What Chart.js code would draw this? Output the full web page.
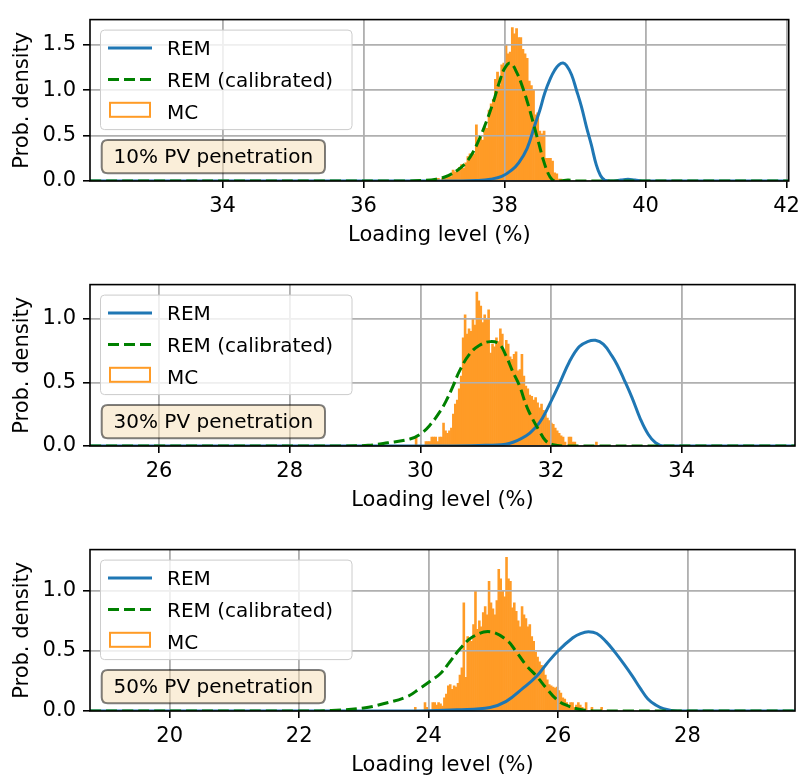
<!DOCTYPE html>
<html>
<head>
<meta charset="utf-8">
<script src="https://cdn.jsdelivr.net/npm/chart.js@4.4.0/dist/chart.umd.min.js"></script>
<style>
  html, body { margin: 0; padding: 0; background: #fff; }
  #wrap { position: relative; width: 806px; height: 780px; }
  .panel { position: absolute; left: 0; width: 806px; height: 250px; }
</style>
</head>
<body>
<div id="wrap">
  <div class="panel" style="top:0"><canvas id="c1" width="806" height="250"></canvas></div>
  <div class="panel" style="top:265px"><canvas id="c2" width="806" height="250"></canvas></div>
  <div class="panel" style="top:530px"><canvas id="c3" width="806" height="250"></canvas></div>
</div>
<script>
/* ── Data ─────────────────────────────────────────── */
const seriesLabels = ["REM", "REM (calibrated)", "MC"];
const notes = ["10% PV penetration", "30% PV penetration", "50% PV penetration"];
const xTitle = "Loading level (%)";
const yTitle = "Prob. density";

const xTicks1 = [34, 36, 38, 40, 42];
const xTicks2 = [26, 28, 30, 32, 34];
const xTicks3 = [20, 22, 24, 26, 28];
const yTicks1 = [0, 0.5, 1.0, 1.5];
const yTicks2 = [0, 0.5, 1.0];
const yTicks3 = [0, 0.5, 1.0];

// histogram bins (MC), 0.03 wide, first bin centre given
const binWidth = 0.03;
const mcFirst1 = 37.03;
const mcDensity1 = [
  0.02, 0.03, 0.00, 0.03, 0.05, 0.04, 0.06, 0.05, 0.12, 0.10,
  0.12, 0.15, 0.18, 0.14, 0.20, 0.27, 0.30, 0.28, 0.30, 0.62,
  0.42, 0.48, 0.45, 0.60, 0.58, 0.78, 0.85, 0.90, 1.12, 1.20,
  1.05, 1.28, 1.30, 1.50, 1.40, 1.42, 1.69, 1.62, 1.68, 1.58,
  1.58, 1.45, 1.40, 1.35, 1.10, 1.05, 1.00, 0.73, 0.75, 0.55,
  0.52, 0.55, 0.25, 0.25, 0.25, 0.22, 0.09, 0.08, 0.02, 0.02
];
const mcFirst2 = 29.935;
const mcDensity2 = [
  0.07, 0, 0, 0, 0, 0.035, 0.035, 0.035, 0.07, 0.07,
  0.07, 0.035, 0.07, 0.07, 0.18, 0.12, 0.10, 0.12, 0.14, 0.25,
  0.33, 0.36, 0.45, 0.55, 0.85, 1.03, 0.88, 0.92, 0.90, 1.00,
  0.95, 1.21, 1.14, 1.10, 0.97, 1.03, 1.00, 1.07, 0.73, 0.80,
  0.78, 0.85, 0.82, 0.92, 0.88, 0.75, 0.83, 0.80, 0.70, 0.68,
  0.72, 0.74, 0.59, 0.60, 0.72, 0.55, 0.47, 0.45, 0.40, 0.39,
  0.36, 0.38, 0.34, 0.30, 0.33, 0.28, 0.25, 0.22, 0.20, 0.18,
  0.17, 0.14, 0.12, 0.10, 0.08, 0.07, 0.03, 0, 0.07, 0.07,
  0.03, 0.03, 0, 0, 0, 0, 0, 0, 0, 0,
  0, 0, 0.03
];
const mcFirst3 = 23.795;
const mcDensity3 = [
  0.03, 0, 0, 0, 0, 0.07, 0.03, 0, 0, 0.07,
  0.07, 0.05, 0.07, 0.06, 0.04, 0.11, 0.14, 0.21, 0.22, 0.18,
  0.21, 0.20, 0.23, 0.30, 0.36, 0.90, 0.28, 0.62, 0.60, 0.58,
  0.72, 1.00, 0.68, 0.75, 0.70, 0.82, 0.87, 0.80, 1.08, 0.90,
  0.85, 0.80, 0.92, 1.18, 1.10, 1.00, 0.95, 1.28, 1.10, 1.08,
  0.86, 0.90, 0.83, 0.75, 0.70, 0.87, 0.80, 0.77, 0.70, 0.72,
  0.62, 0.58, 0.49, 0.45, 0.41, 0.38, 0.36, 0.30, 0.26, 0.22,
  0.21, 0.20, 0.19, 0.20, 0.17, 0.15, 0.11, 0.10, 0.07, 0.03,
  0.07, 0.07, 0.03, 0.05, 0.07, 0.05, 0.03, 0, 0.07, 0,
  0, 0.03, 0, 0, 0, 0, 0.03
];

// REM curves
const remX1 = [32.12, 37.4, 37.6, 37.8, 37.96, 38.1, 38.2, 38.32, 38.43, 38.5, 38.57, 38.65, 38.71, 38.77, 38.83, 38.88, 38.95, 39.02, 39.09, 39.16, 39.23, 39.3, 39.36, 39.42, 39.5, 39.65, 39.75, 39.85, 40.0, 42.03];
const remY1 = [0, 0, 0.005, 0.02, 0.05, 0.12, 0.2, 0.36, 0.62, 0.78, 0.97, 1.13, 1.22, 1.28, 1.3, 1.27, 1.17, 1.0, 0.82, 0.6, 0.4, 0.18, 0.06, 0.01, 0, 0.01, 0.02, 0.01, 0, 0];
const calX1 = [32.12, 36.6, 36.8, 37.03, 37.2, 37.35, 37.45, 37.54, 37.64, 37.73, 37.84, 37.93, 38.0, 38.08, 38.17, 38.27, 38.35, 38.41, 38.48, 38.55, 38.62, 38.67, 38.72, 38.8, 38.9, 39.0, 42.03];
const calY1 = [0, 0, 0.005, 0.02, 0.06, 0.13, 0.2, 0.3, 0.46, 0.63, 0.87, 1.1, 1.24, 1.3, 1.2, 1.0, 0.8, 0.63, 0.43, 0.23, 0.08, 0.02, 0, 0, 0.01, 0, 0];

const remX2 = [24.943, 30.5, 31.0, 31.36, 31.62, 31.77, 31.87, 32.0, 32.13, 32.28, 32.43, 32.56, 32.68, 32.8, 32.93, 33.01, 33.12, 33.24, 33.37, 33.49, 33.6, 33.72, 35.735];
const remY2 = [0, 0, 0.005, 0.02, 0.08, 0.15, 0.22, 0.35, 0.49, 0.66, 0.78, 0.82, 0.83, 0.8, 0.71, 0.64, 0.52, 0.38, 0.21, 0.09, 0.025, 0, 0];
const calX2 = [24.943, 28.8, 29.2, 29.5, 29.84, 29.99, 30.14, 30.3, 30.4, 30.5, 30.6, 30.75, 30.9, 31.07, 31.21, 31.31, 31.41, 31.52, 31.62, 31.72, 31.82, 31.92, 32.03, 32.2, 35.735];
const calY2 = [0, 0, 0.005, 0.025, 0.055, 0.09, 0.16, 0.27, 0.36, 0.47, 0.59, 0.72, 0.79, 0.82, 0.8, 0.71, 0.59, 0.47, 0.32, 0.21, 0.12, 0.04, 0.01, 0, 0];

const remX3 = [18.768, 23.5, 24.0, 24.44, 24.95, 25.2, 25.46, 25.67, 25.82, 26.0, 26.23, 26.35, 26.47, 26.6, 26.74, 26.88, 27.02, 27.15, 27.27, 27.39, 27.51, 27.63, 27.85, 29.663];
const remY3 = [0, 0, 0.002, 0.01, 0.03, 0.08, 0.19, 0.29, 0.39, 0.5, 0.61, 0.645, 0.66, 0.645, 0.58, 0.49, 0.39, 0.29, 0.19, 0.1, 0.05, 0.02, 0, 0];
const calX3 = [18.768, 22.0, 22.5, 23.0, 23.3, 23.67, 23.87, 24.03, 24.18, 24.33, 24.49, 24.69, 24.95, 25.21, 25.36, 25.51, 25.67, 25.82, 25.97, 26.12, 26.33, 26.6, 29.663];
const calY3 = [0, 0, 0.005, 0.025, 0.06, 0.12, 0.19, 0.25, 0.31, 0.41, 0.52, 0.62, 0.66, 0.59, 0.49, 0.38, 0.29, 0.19, 0.1, 0.05, 0.015, 0, 0];

/* ── Style ────────────────────────────────────────── */
const BLUE = "#1f77b4";
const GREEN = "#008000";
const ORANGE = "#ff9b26";
const GRID = "#b0b0b0";

Chart.defaults.font.family = "'DejaVu Sans', sans-serif";
Chart.defaults.font.size = 21;
Chart.defaults.color = "#000";

const toPoints = (xs, ys) => xs.map((x, i) => ({ x, y: ys[i] }));
const histPoints = (first, heights) => heights.map((h, i) => ({ x: first + i * binWidth, y: h }));

function roundRect(ctx, x, y, w, h, r) {
    ctx.beginPath();
    ctx.moveTo(x + r, y);
    ctx.lineTo(x + w - r, y);
    ctx.quadraticCurveTo(x + w, y, x + w, y + r);
    ctx.lineTo(x + w, y + h - r);
    ctx.quadraticCurveTo(x + w, y + h, x + w - r, y + h);
    ctx.lineTo(x + r, y + h);
    ctx.quadraticCurveTo(x, y + h, x, y + h - r);
    ctx.lineTo(x, y + r);
    ctx.quadraticCurveTo(x, y, x + r, y);
    ctx.closePath();
}

// grid goes over the bars but under the lines, like matplotlib
function drawGrid(chart) {
    const { ctx, chartArea: a, scales } = chart;
    ctx.save();
    ctx.beginPath();
    ctx.rect(a.left, a.top, a.right - a.left, a.bottom - a.top);
    ctx.clip();
    ctx.strokeStyle = GRID;
    ctx.lineWidth = 1.6;
    scales.x.ticks.forEach(t => {
        const px = Math.round(scales.x.getPixelForValue(t.value) - 0.8) + 0.8;
        ctx.beginPath(); ctx.moveTo(px, a.top); ctx.lineTo(px, a.bottom); ctx.stroke();
    });
    scales.y.ticks.forEach(t => {
        const py = Math.round(scales.y.getPixelForValue(t.value) - 0.8) + 0.8;
        ctx.beginPath(); ctx.moveTo(a.left, py); ctx.lineTo(a.right, py); ctx.stroke();
    });
    ctx.restore();
}

function drawLegend(chart) {
    const { ctx, chartArea: a } = chart;
    ctx.save();
    roundRect(ctx, a.left + 10.5, a.top + 10.5, 251.5, 99.5, 4);
    ctx.fillStyle = "rgba(255,255,255,0.8)";
    ctx.fill();
    ctx.strokeStyle = "#cccccc";
    ctx.lineWidth = 1;
    ctx.stroke();

    chart.data.datasets.forEach((ds, i) => {
        const cy = a.top + 28.3 + i * 31.7;
        if (ds.type === "bar") {
            ctx.fillStyle = "#fff";
            ctx.strokeStyle = ORANGE;
            ctx.lineWidth = 2;
            ctx.fillRect(a.left + 20, cy - 8.5, 40, 14);
            ctx.strokeRect(a.left + 20, cy - 8.5, 40, 14);
        } else {
            ctx.strokeStyle = ds.borderColor;
            ctx.lineWidth = 3;
            ctx.setLineDash(ds.borderDash || []);
            ctx.beginPath();
            ctx.moveTo(a.left + 18, cy);
            ctx.lineTo(a.left + 62, cy);
            ctx.stroke();
            ctx.setLineDash([]);
        }
        ctx.fillStyle = "#000";
        ctx.font = "20px 'DejaVu Sans'";
        ctx.textAlign = "left";
        ctx.textBaseline = "alphabetic";
        ctx.fillText(ds.label, a.left + 77, cy + 7.3);
    });
    ctx.restore();
}

function drawNote(chart, text) {
    const { ctx, chartArea: a } = chart;
    ctx.save();
    roundRect(ctx, a.left + 11.7, a.bottom - 41, 223.3, 33.3, 6);
    ctx.fillStyle = "rgba(245,222,179,0.5)";
    ctx.fill();
    ctx.strokeStyle = "rgba(0,0,0,0.5)";
    ctx.lineWidth = 2;
    ctx.stroke();
    ctx.fillStyle = "#000";
    ctx.font = "20px 'DejaVu Sans'";
    ctx.textAlign = "center";
    ctx.textBaseline = "alphabetic";
    ctx.fillText(text, a.left + 123.3, a.bottom - 17.7);
    ctx.restore();
}

const panelPlugin = {
    id: "panel",
    afterDatasetDraw(chart, args) {
        if (args.meta.type === "bar") drawGrid(chart);
    },
    afterDraw(chart, args, opts) {
        const { ctx, chartArea: a } = chart;
        ctx.save();
        ctx.strokeStyle = "#000";
        ctx.lineWidth = 1.6;
        ctx.strokeRect(a.left, a.top, a.right - a.left, a.bottom - a.top);
        ctx.restore();
        drawLegend(chart);
        drawNote(chart, opts.note);
    },
};

/* ── Panel builder ────────────────────────────────── */
function makePanel(id, p) {
    new Chart(document.getElementById(id), {
        type: "bar",
        data: {
            datasets: [
                {
                    type: "line", label: seriesLabels[0], data: toPoints(p.remX, p.remY),
                    borderColor: BLUE, borderWidth: 3, pointRadius: 0,
                    tension: 0.4, fill: false, order: 1,
                },
                {
                    type: "line", label: seriesLabels[1], data: toPoints(p.calX, p.calY),
                    borderColor: GREEN, borderWidth: 3, borderDash: [11, 5], pointRadius: 0,
                    tension: 0.4, fill: false, order: 0,
                },
                {
                    type: "bar", label: seriesLabels[2], data: histPoints(p.mcFirst, p.mc),
                    backgroundColor: ORANGE, borderWidth: 0,
                    barPercentage: 1, categoryPercentage: 1, order: 2,
                },
            ],
        },
        options: {
            responsive: false,
            animation: false,
            events: [],
            layout: { padding: { left: 0, right: 11, top: p.top, bottom: 0 } },
            scales: {
                x: {
                    type: "linear", min: p.xMin, max: p.xMax, offset: false,
                    afterBuildTicks: s => { s.ticks = p.xTicks.map(v => ({ value: v })); },
                    afterFit: s => { s.height = 69; },
                    ticks: { padding: 6, maxRotation: 0, autoSkip: false, color: "#000", callback: v => String(v) },
                    grid: { color: GRID, lineWidth: 1.6, offset: false, tickLength: 7, tickColor: "#000", tickWidth: 1.6 },
                    border: { display: false },
                    title: { display: true, text: xTitle, color: "#000", padding: { top: 0, bottom: 2 } },
                },
                y: {
                    type: "linear", min: 0, max: p.yMax,
                    afterBuildTicks: s => { s.ticks = p.yTicks.map(v => ({ value: v })); },
                    afterFit: s => { s.width = 90; },
                    ticks: { padding: 7, color: "#000", callback: v => v.toFixed(1) },
                    grid: { color: GRID, lineWidth: 1.6, tickLength: 7, tickColor: "#000", tickWidth: 1.6 },
                    border: { display: false },
                    title: { display: true, text: yTitle, color: "#000", padding: { top: 10, bottom: 0 } },
                },
            },
            plugins: {
                legend: { display: false },
                tooltip: { enabled: false },
                panel: { note: p.note },
            },
        },
        plugins: [panelPlugin],
    });
}

makePanel("c1", {
    top: 5, xMin: 32.12, xMax: 42.03, yMax: 1.778, xTicks: xTicks1, yTicks: yTicks1,
    mcFirst: mcFirst1, mc: mcDensity1, remX: remX1, remY: remY1, calX: calX1, calY: calY1, note: notes[0],
});
makePanel("c2", {
    top: 6, xMin: 24.943, xMax: 35.735, yMax: 1.268, xTicks: xTicks2, yTicks: yTicks2,
    mcFirst: mcFirst2, mc: mcDensity2, remX: remX2, remY: remY2, calX: calX2, calY: calY2, note: notes[1],
});
makePanel("c3", {
    top: 5, xMin: 18.768, xMax: 29.663, yMax: 1.344, xTicks: xTicks3, yTicks: yTicks3,
    mcFirst: mcFirst3, mc: mcDensity3, remX: remX3, remY: remY3, calX: calX3, calY: calY3, note: notes[2],
});
</script>
</body>
</html>
